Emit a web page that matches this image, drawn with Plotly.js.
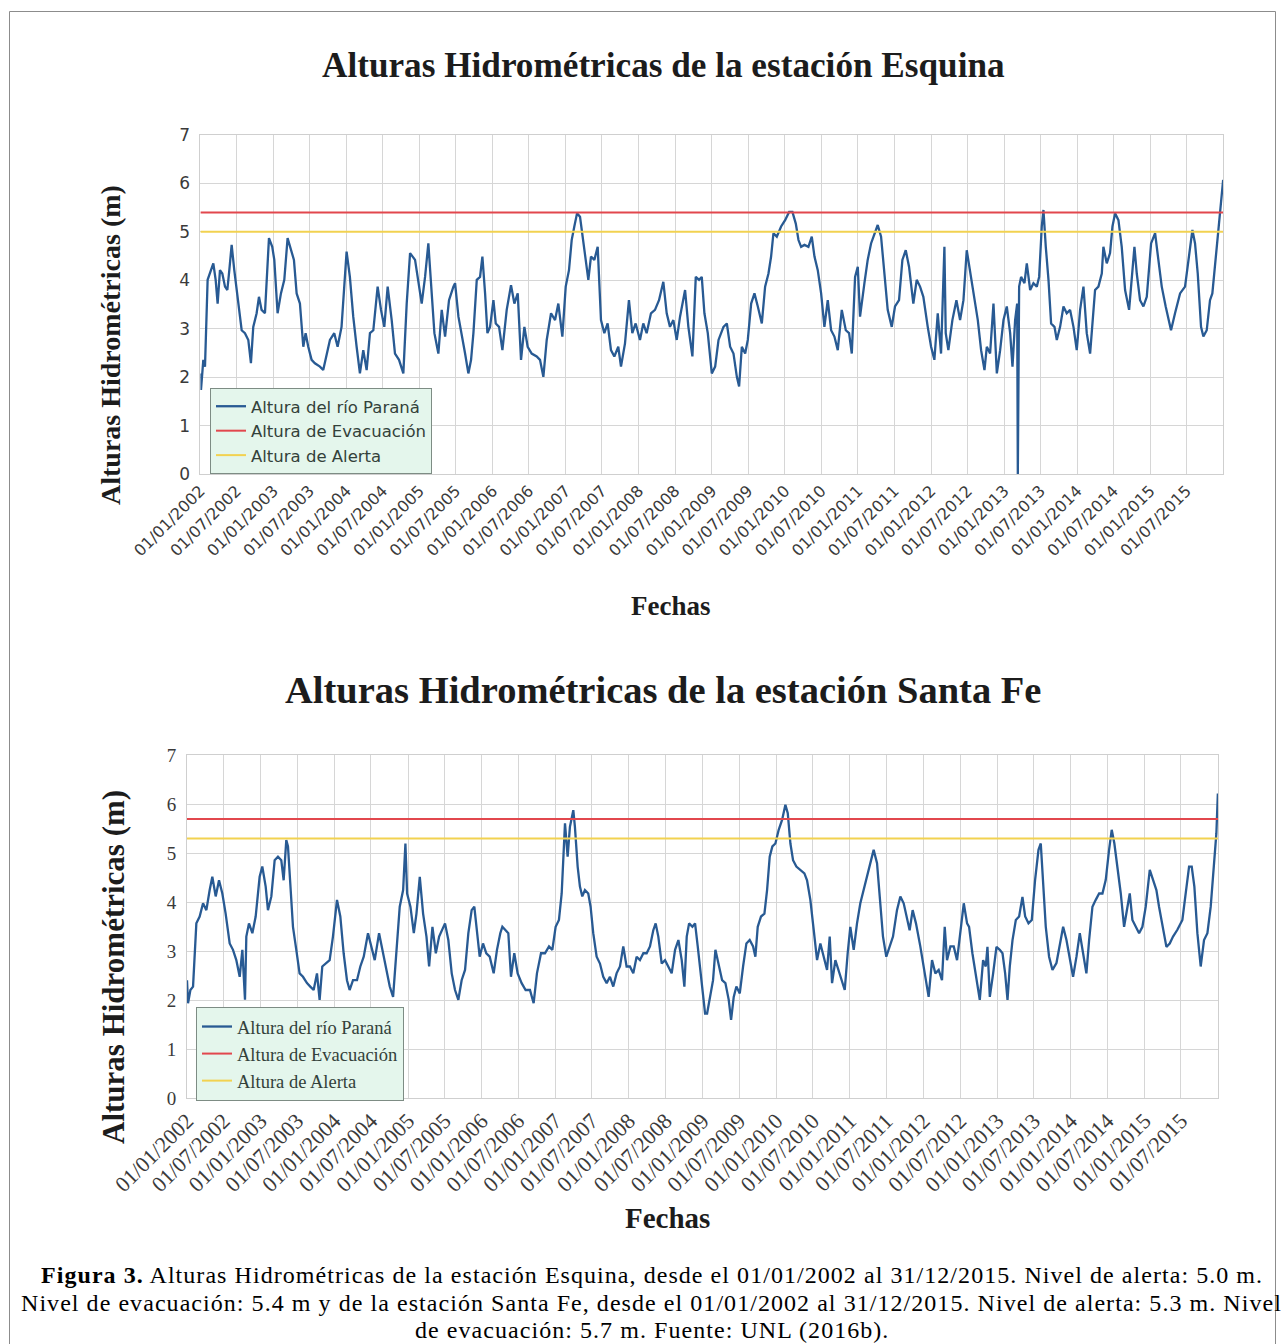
<!DOCTYPE html>
<html lang="es">
<head>
<meta charset="utf-8">
<title>Alturas Hidrométricas – Esquina y Santa Fe</title>
<script src="https://cdn.plot.ly/plotly-3.0.1.min.js"></script>
<style>
  html, body { margin: 0; padding: 0; background: #ffffff; }
  #fig { width: 1284px; height: 1344px; }
</style>
</head>
<body>
<div id="fig"></div>
<script>
// ---------------------------------------------------------------------------
// Series: river height (m) sampled along time, time given in years elapsed
// since 01/01/2002.
// ---------------------------------------------------------------------------
const START_YEAR = 2002;
const END_DATE = '2016-01-01';

// Estación Esquina
const esquinaT = [
  0.000,0.008,0.040,0.063,0.099,0.131,0.177,0.209,0.236,0.268,
  0.300,0.337,0.369,0.396,0.428,0.464,0.519,0.565,0.610,0.656,
  0.692,0.724,0.770,0.802,0.838,0.884,0.939,0.984,1.012,1.057,
  1.103,1.149,1.194,1.240,1.281,1.318,1.363,1.409,1.441,1.477,
  1.523,1.568,1.637,1.682,1.728,1.774,1.833,1.879,1.933,2.002,
  2.047,2.093,2.139,2.184,2.230,2.276,2.321,2.367,2.426,2.472,
  2.517,2.563,2.618,2.663,2.718,2.777,2.823,2.869,2.937,2.992,
  3.028,3.074,3.119,3.165,3.202,3.256,3.302,3.348,3.402,3.462,
  3.485,3.531,3.576,3.622,3.667,3.704,3.736,3.782,3.827,3.859,
  3.896,3.928,3.964,4.010,4.042,4.087,4.133,4.192,4.251,4.297,
  4.343,4.388,4.434,4.479,4.534,4.603,4.648,4.694,4.740,4.799,
  4.854,4.899,4.954,5.000,5.045,5.082,5.118,5.155,5.196,5.232,
  5.273,5.310,5.346,5.392,5.438,5.483,5.529,5.574,5.620,5.666,
  5.720,5.757,5.812,5.866,5.912,5.958,6.017,6.062,6.108,6.167,
  6.222,6.277,6.336,6.382,6.427,6.473,6.519,6.564,6.633,6.678,
  6.733,6.779,6.824,6.861,6.897,6.943,6.998,
  7.044,7.090,7.158,7.204,7.249,7.295,7.341,7.372,7.409,7.455,
  7.491,7.537,7.582,7.628,7.683,7.728,7.774,7.810,7.842,7.888,
  7.947,8.002,8.057,8.102,8.148,8.185,8.221,8.267,8.321,8.367,
  8.404,8.449,8.495,8.540,8.586,8.632,8.677,8.723,8.778,8.833,
  8.878,8.915,8.960,8.997,9.028,9.088,9.133,9.179,9.225,9.270,
  9.316,9.362,9.407,9.462,9.507,9.562,9.608,9.654,9.699,9.758,
  9.804,9.850,9.895,9.955,10.001,10.046,10.092,10.137,10.183,10.201,
  10.237,10.292,10.347,10.397,10.443,10.488,10.534,10.602,
  10.639,10.684,10.730,10.762,10.807,10.853,10.899,10.944,10.990,11.035,
  11.081,11.113,11.149,11.177,11.186,11.204,11.231,11.277,11.309,11.355,
  11.400,11.446,11.478,11.514,11.537,11.569,11.606,11.642,11.688,11.720,
  11.765,11.811,11.856,11.902,11.948,11.993,12.039,12.085,12.130,12.176,
  12.208,12.244,12.290,12.336,12.358,12.404,12.449,12.482,12.518,12.564,
  12.609,12.655,12.710,12.746,12.783,12.815,12.860,12.906,12.952,13.011,
  13.066,13.111,13.157,13.211,13.284,13.339,13.408,13.476,13.545,13.577,
  13.613,13.650,13.695,13.727,13.773,13.818,13.850,13.896,13.932,13.969,
  13.998
];
const esquinaH = [
  2.08,1.74,2.36,2.22,4.01,4.14,4.35,4.01,3.52,4.21,
  4.14,3.87,3.80,4.21,4.73,4.21,3.52,2.97,2.91,2.77,
  2.29,3.04,3.32,3.66,3.39,3.32,4.87,4.69,4.42,3.32,
  3.73,4.01,4.87,4.62,4.42,3.73,3.52,2.63,2.91,2.63,
  2.36,2.29,2.22,2.15,2.49,2.77,2.91,2.63,3.04,4.59,
  4.07,3.25,2.63,2.08,2.56,2.15,2.91,2.97,3.87,3.39,
  3.04,3.87,3.18,2.49,2.36,2.08,3.52,4.56,4.42,3.87,
  3.52,4.07,4.76,3.73,2.91,2.49,3.39,2.84,3.59,3.87,
  3.94,3.25,2.91,2.49,2.08,2.36,2.91,4.01,4.07,4.49,
  3.73,2.91,3.04,3.59,3.11,3.04,2.56,3.39,3.90,3.52,
  3.73,2.36,3.04,2.63,2.49,2.43,2.36,2.01,2.77,3.32,
  3.18,3.52,2.84,3.87,4.21,4.83,5.11,5.38,5.31,4.90,
  4.35,4.01,4.49,4.42,4.69,3.18,2.91,3.11,2.56,2.43,
  2.63,2.22,2.70,3.59,2.91,3.11,2.77,3.11,2.91,3.32,
  3.39,3.59,3.97,3.32,3.04,3.18,2.77,3.25,3.80,3.04,
  2.43,4.07,4.01,4.07,3.32,2.91,2.08,
  2.22,2.77,3.04,3.11,2.63,2.49,2.01,1.81,2.63,2.49,
  2.77,3.52,3.73,3.46,3.11,3.87,4.14,4.49,4.97,4.90,
  5.11,5.24,5.41,5.41,5.17,4.83,4.69,4.73,4.69,4.90,
  4.49,4.21,3.73,3.04,3.59,2.97,2.84,2.56,3.39,2.97,
  2.91,2.49,4.07,4.28,3.25,3.94,4.42,4.76,4.97,5.14,
  4.90,4.07,3.39,3.04,3.46,3.59,4.42,4.62,4.28,3.52,
  4.01,3.87,3.66,3.04,2.63,2.36,3.32,2.49,4.69,2.91,
  2.56,3.18,3.59,3.18,3.59,4.62,4.21,3.52,
  3.18,2.56,2.15,2.63,2.49,3.52,2.08,2.56,3.18,3.46,
  2.91,2.22,3.18,3.52,0.00,3.87,4.07,3.94,4.35,3.80,
  3.94,3.87,4.07,5.11,5.45,4.69,4.01,3.11,3.04,2.77,
  3.04,3.46,3.32,3.39,3.04,2.56,3.39,3.87,2.91,2.49,
  3.18,3.80,3.87,4.14,4.69,4.35,4.56,5.11,5.38,5.24,
  4.69,3.80,3.39,4.01,4.69,4.14,3.59,3.46,3.66,4.76,
  4.97,4.42,3.87,3.46,2.97,3.32,3.73,3.87,4.62,5.04,
  4.76,4.14,3.04,2.84,2.97,3.59,3.73,4.42,5.11,5.52,
  6.07
];
const esquinaEvacuacion = 5.4;
const esquinaAlerta = 5.0;

// Estación Santa Fe
const santaFeT = [
  0.000,0.014,0.046,0.082,0.127,0.172,0.218,0.263,0.308,0.344,
  0.390,0.435,0.480,0.525,0.580,0.625,0.670,0.716,0.752,0.788,
  0.806,0.842,0.888,0.933,0.987,1.023,1.069,1.100,1.146,1.191,
  1.236,1.281,1.313,1.349,1.372,1.404,1.440,1.485,1.530,1.576,
  1.630,1.675,1.721,1.766,1.802,1.838,1.883,1.938,1.983,2.038,
  2.083,2.128,2.173,2.209,2.255,2.309,2.354,2.400,2.458,2.504,
  2.549,2.608,2.662,2.707,2.753,2.798,2.843,2.888,2.934,2.965,
  2.988,3.033,3.079,3.115,3.160,3.205,3.251,3.287,3.332,3.378,
  3.423,3.477,
  3.503,3.548,3.594,3.639,3.684,3.729,3.775,3.820,3.865,3.901,
  3.938,3.974,4.019,4.064,4.110,4.164,4.209,4.254,4.282,4.327,
  4.363,4.399,4.444,4.490,4.544,4.598,4.657,4.707,4.752,4.807,
  4.861,4.916,4.961,5.006,5.051,5.088,5.115,5.133,5.169,5.200,
  5.246,5.268,5.305,5.336,5.368,5.404,5.449,5.481,5.517,5.563,
  5.608,5.653,5.699,5.744,5.789,5.834,5.880,5.925,5.970,6.015,
  6.061,6.106,6.151,6.197,6.242,6.287,6.332,6.364,6.400,6.446,
  6.491,6.536,6.581,6.627,6.672,6.717,6.753,6.785,6.817,6.862,
  6.898,6.934,6.980,7.011,7.034,
  7.061,7.106,7.142,7.174,7.219,7.265,7.310,7.355,7.387,7.423,
  7.459,7.505,7.550,7.595,7.640,7.686,7.717,7.749,7.794,7.840,
  7.876,7.912,7.948,7.989,8.034,8.080,8.125,8.157,8.193,8.229,
  8.274,8.329,8.383,8.419,8.464,8.510,8.555,8.600,8.645,8.691,
  8.727,8.759,8.804,8.849,8.894,8.931,8.971,9.007,9.053,9.098,
  9.143,9.189,9.234,9.279,9.324,9.370,9.406,9.451,9.496,9.542,
  9.587,9.641,9.687,9.732,9.777,9.813,9.854,9.899,9.958,10.003,
  10.049,10.071,10.117,10.162,10.207,10.252,10.289,10.320,10.366,10.411,
  10.456,10.501,10.547,10.592,
  10.619,10.664,10.710,10.764,10.809,10.845,10.868,10.900,10.945,10.990,
  11.035,11.072,11.108,11.140,11.171,11.208,11.253,11.298,11.343,11.380,
  11.425,11.470,11.515,11.561,11.592,11.624,11.660,11.705,11.751,11.805,
  11.850,11.896,11.941,11.986,12.031,12.077,12.122,12.167,12.212,12.249,
  12.294,12.339,12.385,12.430,12.475,12.520,12.556,12.592,12.634,12.679,
  12.724,12.756,12.801,12.837,12.883,12.928,12.973,13.018,13.073,13.118,
  13.163,13.199,13.245,13.299,13.344,13.389,13.448,13.516,13.561,13.607,
  13.643,13.679,13.720,13.765,13.810,13.856,13.901,13.946,13.978,13.998
];
const santaFeH = [
  2.41,1.94,2.21,2.28,3.57,3.71,3.98,3.84,4.25,4.52,
  4.12,4.45,4.18,3.77,3.16,3.03,2.82,2.48,3.03,2.01,
  3.30,3.57,3.37,3.71,4.52,4.73,4.32,3.84,4.12,4.86,
  4.93,4.86,4.45,5.27,5.14,4.32,3.50,3.03,2.55,2.48,
  2.35,2.28,2.21,2.55,2.01,2.69,2.75,2.82,3.30,4.05,
  3.71,2.96,2.41,2.21,2.41,2.41,2.69,2.89,3.37,3.09,
  2.82,3.37,2.96,2.55,2.28,2.07,2.96,3.91,4.25,5.20,
  4.18,3.91,3.37,3.77,4.52,3.77,3.30,2.69,3.50,2.96,
  3.30,3.50,
  3.57,3.23,2.55,2.21,2.01,2.41,2.62,3.37,3.84,3.91,
  3.43,2.89,3.16,2.96,2.89,2.55,3.03,3.37,3.50,3.43,
  3.37,2.48,2.96,2.55,2.35,2.21,2.21,1.94,2.55,2.96,
  2.96,3.10,3.03,3.50,3.64,4.18,5.14,5.61,4.93,5.54,
  5.88,5.54,4.73,4.32,4.12,4.25,4.18,3.91,3.37,2.89,
  2.75,2.48,2.35,2.48,2.28,2.55,2.69,3.10,2.69,2.69,
  2.55,2.89,2.82,2.96,2.96,3.10,3.43,3.57,3.30,2.75,
  2.82,2.69,2.55,3.03,3.23,2.82,2.28,3.30,3.57,3.50,
  3.57,3.10,2.41,2.07,1.73,
  1.73,2.14,2.41,3.03,2.69,2.41,2.35,2.01,1.60,2.07,
  2.28,2.14,2.69,3.16,3.23,3.10,2.89,3.50,3.71,3.77,
  4.25,4.93,5.14,5.20,5.48,5.68,5.99,5.82,5.20,4.86,
  4.73,4.66,4.59,4.45,4.05,3.43,2.82,3.16,2.89,2.62,
  3.30,2.35,2.82,2.62,2.41,2.21,2.96,3.50,3.03,3.57,
  3.98,4.25,4.52,4.80,5.07,4.80,4.12,3.30,2.89,3.10,
  3.30,3.84,4.12,3.98,3.64,3.43,3.84,3.57,3.10,2.69,
  2.21,2.07,2.82,2.55,2.62,2.41,3.50,2.82,3.10,3.10,
  2.82,3.43,3.98,3.57,
  3.50,2.96,2.55,2.01,2.82,2.69,3.09,2.07,2.55,3.09,
  3.03,2.96,2.55,2.01,2.69,3.23,3.64,3.71,4.11,3.71,
  3.57,3.64,4.46,5.07,5.20,4.46,3.50,2.89,2.62,2.76,
  3.09,3.50,3.23,2.89,2.48,2.89,3.37,2.96,2.55,3.23,
  3.91,4.05,4.18,4.18,4.46,5.07,5.48,5.20,4.73,4.18,
  3.50,3.78,4.18,3.64,3.50,3.37,3.50,3.91,4.66,4.46,
  4.25,3.91,3.50,3.09,3.16,3.30,3.44,3.64,4.18,4.73,
  4.73,4.32,3.37,2.69,3.23,3.37,3.91,4.73,5.41,6.22
];
const santaFeEvacuacion = 5.7;
const santaFeAlerta = 5.3;

// Axis tick labels (every six months)
const tickLabels = [
  '01/01/2002','01/07/2002','01/01/2003','01/07/2003','01/01/2004','01/07/2004',
  '01/01/2005','01/07/2005','01/01/2006','01/07/2006','01/01/2007','01/07/2007',
  '01/01/2008','01/07/2008','01/01/2009','01/07/2009','01/01/2010','01/07/2010',
  '01/01/2011','01/07/2011','01/01/2012','01/07/2012','01/01/2013','01/07/2013',
  '01/01/2014','01/07/2014','01/01/2015','01/07/2015'
];
const legendNames = ['Altura del río Paraná', 'Altura de Evacuación', 'Altura de Alerta'];

// ---------------------------------------------------------------------------
// Helpers
// ---------------------------------------------------------------------------
const W = 1284, H = 1344;
const px = x => x / W;          // pixel column -> paper fraction
const py = y => 1 - y / H;      // pixel row    -> paper fraction

// years elapsed since 01/01/2002 -> 'YYYY-MM-DD HH:MM:SS'
function toDate(t) {
  const whole = Math.floor(t);
  const y = START_YEAR + whole;
  const a = Date.UTC(y, 0, 1), b = Date.UTC(y + 1, 0, 1);
  return new Date(a + (t - whole) * (b - a)).toISOString().slice(0, 19).replace('T', ' ');
}
const tickVals = tickLabels.map(s => { const [d, m, y] = s.split('/'); return `${y}-${m}-${d}`; });
const startDate = tickVals[0];

const COL_RIVER = '#285a93';
const COL_EVAC = '#e2474d';
const COL_ALERT = '#f2d250';

function seriesTraces(tArr, hArr, evac, alert, xa, ya, legendId) {
  const x = tArr.map(toDate);
  return [
    { type: 'scatter', mode: 'lines', x, y: hArr, xaxis: xa, yaxis: ya, legend: legendId,
      name: legendNames[0], line: { color: COL_RIVER, width: 2.3 }, hoverinfo: 'skip' },
    { type: 'scatter', mode: 'lines', x: [startDate, END_DATE], y: [evac, evac], xaxis: xa, yaxis: ya,
      legend: legendId, name: legendNames[1], line: { color: COL_EVAC, width: 2 }, hoverinfo: 'skip' },
    { type: 'scatter', mode: 'lines', x: [startDate, END_DATE], y: [alert, alert], xaxis: xa, yaxis: ya,
      legend: legendId, name: legendNames[2], line: { color: COL_ALERT, width: 2 }, hoverinfo: 'skip' }
  ];
}

function xAxis(domain, anchor, font) {
  return {
    type: 'date', domain, anchor, range: [startDate, END_DATE],
    tickmode: 'array', tickvals: tickVals, ticktext: tickLabels, tickangle: -45,
    tickfont: font, ticks: '', showgrid: true, gridcolor: '#d6d6d6', gridwidth: 1,
    showline: true, linecolor: '#cfcfcf', linewidth: 1, mirror: true,
    zeroline: false, fixedrange: true, automargin: false
  };
}
function yAxis(domain, anchor, font) {
  return {
    domain, anchor, range: [0, 7], tickmode: 'linear', tick0: 0, dtick: 1,
    tickfont: font, ticks: '', ticklabelstandoff: 6, showgrid: true, gridcolor: '#d6d6d6', gridwidth: 1,
    showline: true, linecolor: '#cfcfcf', linewidth: 1, mirror: true,
    zeroline: false, fixedrange: true, automargin: false
  };
}

const serif = 'Liberation Serif, Times New Roman, serif';
const sans = 'DejaVu Sans, sans-serif';

const data = [
  ...seriesTraces(esquinaT, esquinaH, esquinaEvacuacion, esquinaAlerta, 'x', 'y', 'legend'),
  ...seriesTraces(santaFeT, santaFeH, santaFeEvacuacion, santaFeAlerta, 'x2', 'y2', 'legend2')
];

function label(text, x, y, size, extra) {
  return Object.assign({
    text, xref: 'paper', yref: 'paper', x: px(x), y: py(y),
    xanchor: 'center', yanchor: 'middle', showarrow: false,
    font: { family: serif, size, color: '#1c1c1c' }
  }, extra || {});
}
// caption lines, slightly tracked out
const captionFont = { family: serif, size: 24, color: '#000000' };
const caption = s => `<span style="letter-spacing:1.05px">${s}</span>`;

const layout = {
  width: W, height: H,
  margin: { l: 0, r: 0, t: 0, b: 0, pad: 0 },
  paper_bgcolor: '#ffffff', plot_bgcolor: '#ffffff',
  showlegend: true,
  xaxis: xAxis([px(200.4), px(1223.3)], 'y', { family: sans, size: 16, color: '#3a3a3a' }),
  yaxis: yAxis([py(474.3), py(134.8)], 'x', { family: sans, size: 17, color: '#3a3a3a' }),
  xaxis2: xAxis([px(187), px(1218)], 'y2', { family: serif, size: 22, color: '#3a3a3a' }),
  yaxis2: yAxis([py(1098.3), py(755.3)], 'x2', { family: serif, size: 19, color: '#3a3a3a' }),
  legend: {
    x: px(210), y: py(388), xanchor: 'left', yanchor: 'top',
    bgcolor: '#e4f6ec', bordercolor: '#7d8c84', borderwidth: 1,
    font: { family: sans, size: 16.5, color: '#33413a' }, itemwidth: 30, traceorder: 'normal'
  },
  legend2: {
    x: px(196), y: py(1007), xanchor: 'left', yanchor: 'top',
    bgcolor: '#e4f6ec', bordercolor: '#7d8c84', borderwidth: 1,
    font: { family: serif, size: 18.5, color: '#33413a' }, itemwidth: 30, traceorder: 'normal'
  },
  annotations: [
    label('<b>Alturas Hidrométricas de la estación Esquina</b>', 664, 65, 35.2),
    label('<b>Alturas Hidrométricas (m)</b>', 110, 345, 28, { textangle: -90 }),
    label('<b>Fechas</b>', 670, 606, 27),
    label('<b>Alturas Hidrométricas de la estación Santa Fe</b>', 663, 690, 38.5),
    label('<b>Alturas Hidrométricas (m)</b>', 113, 967, 31, { textangle: -90 }),
    label('<b>Fechas</b>', 667, 1218, 29),
    label(caption('<b>Figura 3.</b> Alturas Hidrométricas de la estación Esquina, desde el 01/01/2002 al 31/12/2015. Nivel de alerta: 5.0 m.'), 652, 1275, 24, { font: captionFont }),
    label(caption('Nivel de evacuación: 5.4 m y de la estación Santa Fe, desde el 01/01/2002 al 31/12/2015. Nivel de alerta: 5.3 m. Nivel'), 652, 1302.5, 24, { font: captionFont }),
    label(caption('de evacuación: 5.7 m. Fuente: UNL (2016b).'), 652, 1330, 24, { font: captionFont })
  ],
  shapes: [
    { type: 'rect', xref: 'paper', yref: 'paper', x0: px(9.5), x1: px(1275.5), y0: py(1360), y1: py(11.5),
      line: { color: '#8c8c8c', width: 1 }, fillcolor: 'rgba(0,0,0,0)', layer: 'below' }
  ]
};

Plotly.newPlot('fig', data, layout, { displayModeBar: false, staticPlot: true });
</script>
</body>
</html>
